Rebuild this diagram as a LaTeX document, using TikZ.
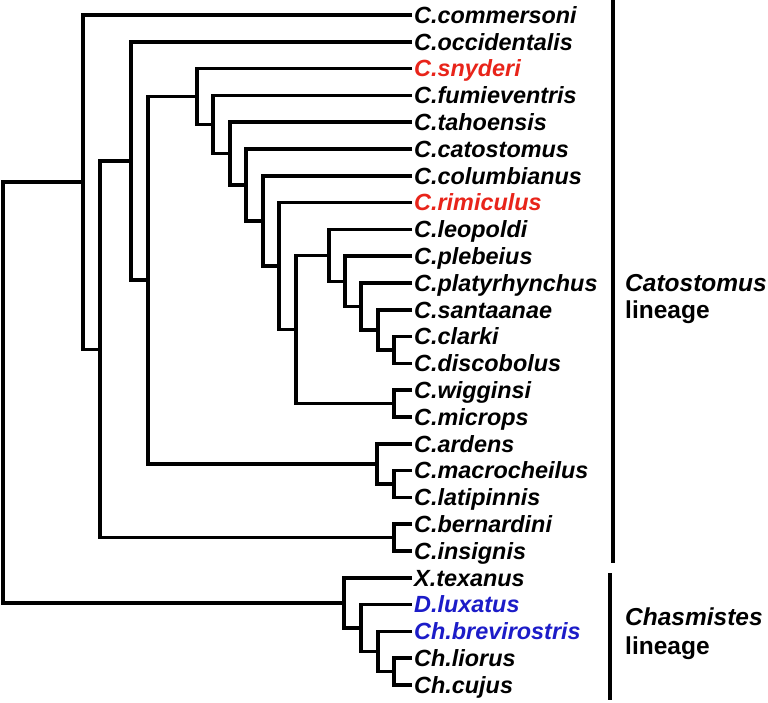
\documentclass[tikz,border=0pt]{standalone}
\usepackage{fontspec}
\newfontfamily\leaffont{Liberation Sans}
\definecolor{snred}{RGB}{232,36,26}
\definecolor{lxblue}{RGB}{28,28,200}
\tikzset{
  br/.style={line width=3.6pt, line join=miter},
  bar/.style={line width=3.6pt},
  leaf/.style={anchor=base west, inner sep=0pt, yshift=-8.3pt, xshift=2pt,
    font=\leaffont\fontsize{23.4}{26}\selectfont\bfseries\itshape},
  grp/.style={anchor=base west, inner sep=0pt,
    font=\leaffont\fontsize{24.5}{28}\selectfont\bfseries},
  grpit/.style={grp, font=\leaffont\fontsize{24.5}{28}\selectfont\bfseries\itshape}
}
\begin{document}
\begin{tikzpicture}[x=1pt,y=-1pt]
\useasboundingbox (0,0) rectangle (768,702);
% leaves
\foreach \k/\nm/\col in {0/C.commersoni/black,1/C.occidentalis/black,2/C.snyderi/snred,
  3/C.fumieventris/black,4/C.tahoensis/black,5/C.catostomus/black,6/C.columbianus/black,
  7/C.rimiculus/snred,8/C.leopoldi/black,9/C.plebeius/black,10/C.platyrhynchus/black,
  11/C.santaanae/black,12/C.clarki/black,13/C.discobolus/black,14/C.wigginsi/black,
  15/C.microps/black,16/C.ardens/black,17/C.macrocheilus/black,18/C.latipinnis/black,
  19/C.bernardini/black,20/C.insignis/black,21/X.texanus/black,22/D.luxatus/lxblue,
  23/Ch.brevirostris/lxblue,24/Ch.liorus/black,25/Ch.cujus/black}{
  \coordinate (l\k) at (412,15+26.8*\k);
  \node[leaf, text=\col] (t\k) at (l\k) {\nm};
}
% internal nodes
\coordinate (n13) at (394,350);
\coordinate (n11) at (378,329.9);
\coordinate (n10) at (361,306.45);
\coordinate (n9) at (345,281.3);
\coordinate (n8) at (329,255.35);
\coordinate (nWM) at (394,403.6);
\coordinate (nP) at (296,329.5);
\coordinate (n7) at (279,266);
\coordinate (n6) at (263,220.9);
\coordinate (n5) at (246,185);
\coordinate (n4) at (230,153.6);
\coordinate (n3) at (213,124.5);
\coordinate (n2) at (197,96.55);
\coordinate (nML) at (394,484);
\coordinate (nA) at (377,463.9);
\coordinate (nB) at (148,280.2);
\coordinate (nC) at (131,161);
\coordinate (nBI) at (394,537.6);
\coordinate (nD) at (100,349.3);
\coordinate (nE) at (83,182.15);
\coordinate (nLC) at (394,671.6);
\coordinate (nBr) at (378,651.5);
\coordinate (nLu) at (361,628);
\coordinate (nT) at (344,602.9);
\coordinate (root) at (3,392.5);
% brackets
\draw[br] (l12) -| (n13) |- (l13);
\draw[br] (l11) -| (n11) |- (n13);
\draw[br] (l10) -| (n10) |- (n11);
\draw[br] (l9) -| (n9) |- (n10);
\draw[br] (l8) -| (n8) |- (n9);
\draw[br] (l14) -| (nWM) |- (l15);
\draw[br] (n8) -| (nP) |- (nWM);
\draw[br] (l7) -| (n7) |- (nP);
\draw[br] (l6) -| (n6) |- (n7);
\draw[br] (l5) -| (n5) |- (n6);
\draw[br] (l4) -| (n4) |- (n5);
\draw[br] (l3) -| (n3) |- (n4);
\draw[br] (l2) -| (n2) |- (n3);
\draw[br] (l17) -| (nML) |- (l18);
\draw[br] (l16) -| (nA) |- (nML);
\draw[br] (n2) -| (nB) |- (nA);
\draw[br] (l1) -| (nC) |- (nB);
\draw[br] (l19) -| (nBI) |- (l20);
\draw[br] (nC) -| (nD) |- (nBI);
\draw[br] (l0) -| (nE) |- (nD);
\draw[br] (l24) -| (nLC) |- (l25);
\draw[br] (l23) -| (nBr) |- (nLC);
\draw[br] (l22) -| (nLu) |- (nBr);
\draw[br] (l21) -| (nT) |- (nLu);
\draw[br] (nE) -| (root) |- (nT);
% group bars
\coordinate (catTop) at (613,0);
\coordinate (catBot) at (613,563);
\coordinate (chaTop) at (610,573);
\coordinate (chaBot) at (610,700);
\draw[bar] (catTop) -- (catBot);
\draw[bar] (chaTop) -- (chaBot);
\node[grpit] (catA) at (625,291.5) {Catostomus};
\node[grp] (catB) at (625,318.5) {lineage};
\node[grpit] (chaA) at (625,625.5) {Chasmistes};
\node[grp] (chaB) at (625,654) {lineage};
\end{tikzpicture}
\end{document}
